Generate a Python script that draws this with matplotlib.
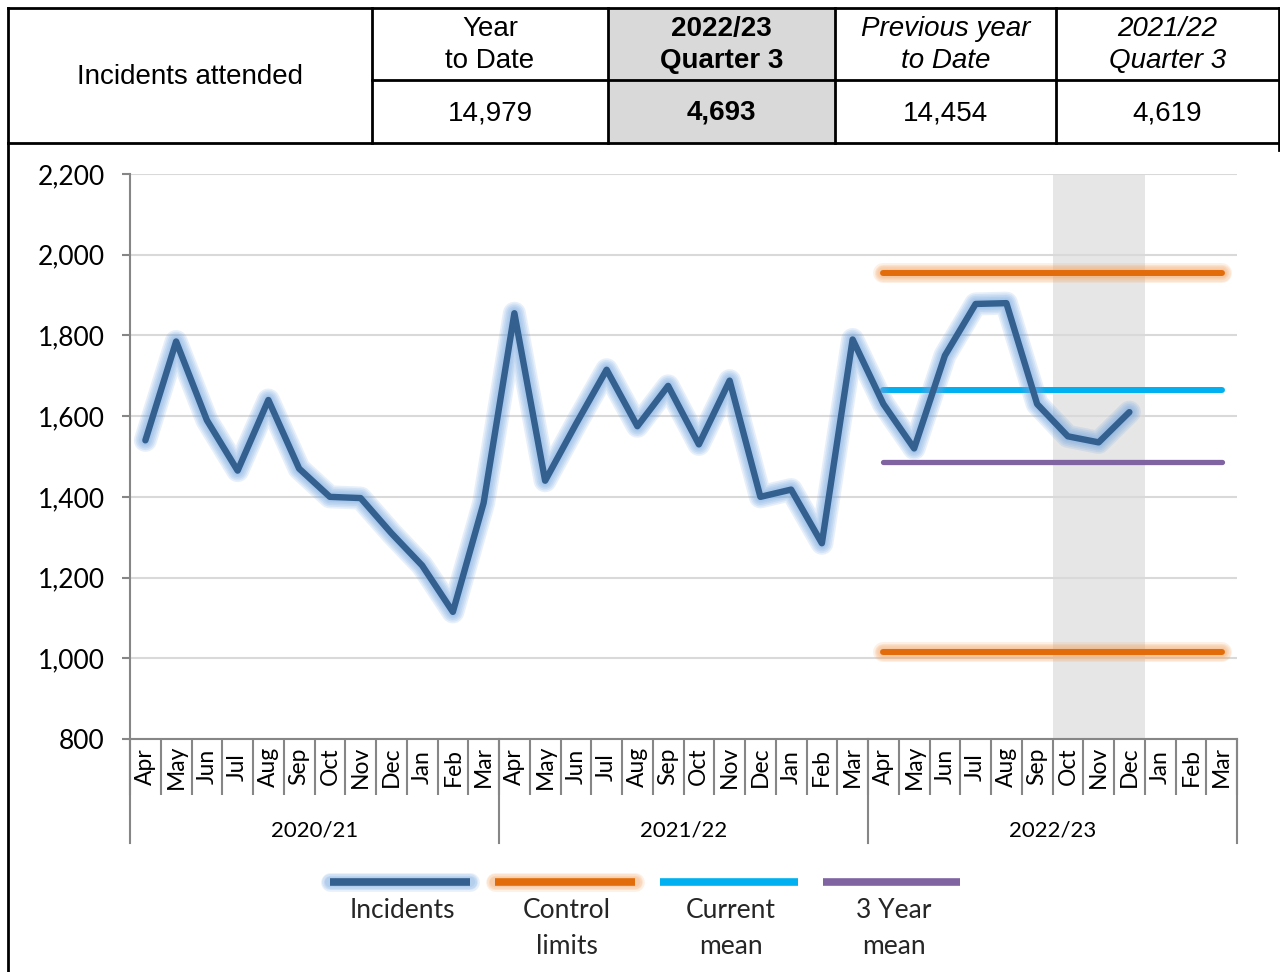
import numpy as np
import matplotlib
matplotlib.use('Agg')
import matplotlib.pyplot as plt

# ---- data ----
months = ['Apr', 'May', 'Jun', 'Jul', 'Aug', 'Sep', 'Oct', 'Nov', 'Dec', 'Jan', 'Feb', 'Mar']
years = ['2020/21', '2021/22', '2022/23']
incidents_2020 = [1540, 1785, 1590, 1465, 1640, 1470, 1400, 1397, 1310, 1230, 1115, 1385]
incidents_2021 = [1855, 1440, 1580, 1715, 1575, 1675, 1530, 1688, 1400, 1418, 1285, 1790]
incidents_2022 = [1630, 1520, 1750, 1878, 1880, 1630, 1550, 1535, 1610]
upper_control = 1955
lower_control = 1016
current_mean = 1665
three_year_mean = 1486
quarter_months = ['Oct', 'Nov', 'Dec']

header_labels = ['Year\nto Date', '2022/23\nQuarter 3', 'Previous year\nto Date', '2021/22\nQuarter 3']
header_values = ['14,979', '4,693', '14,454', '4,619']
row_label = 'Incidents attended'

TABLE_FONT = ['Liberation Sans', 'DejaVu Sans']
CHART_FONT = ['Lato', 'DejaVu Sans']

W, H = 1280, 972
fig = plt.figure(figsize=(W / 100, H / 100), dpi=100)


def px_axes(x0, y0, x1, y1):
    return fig.add_axes([x0 / W, 1 - y1 / H, (x1 - x0) / W, (y1 - y0) / H])


def glow(target, xs, ys, color, glow_col, lw, glow_w, z=3):
    steps = [1.0, 0.8, 0.6, 0.4, 0.2]
    for s in steps:
        target.plot(xs, ys, color=glow_col, lw=lw + glow_w * s, alpha=0.16,
                    solid_capstyle='round', solid_joinstyle='round', zorder=z)
    target.plot(xs, ys, color=color, lw=lw, solid_capstyle='round',
                solid_joinstyle='round', zorder=z + 1)


# ---- main chart ----
ax = px_axes(130, 174, 1237, 739)
incidents = incidents_2020 + incidents_2021 + incidents_2022
x = np.arange(len(incidents))
n_cat = len(months) * len(years)

q0 = 24 + months.index(quarter_months[0])
ax.axvspan(q0 - 0.5, q0 + len(quarter_months) - 0.5, color='#e6e6e6', zorder=1, lw=0)

cur = np.arange(24, n_cat)
glow(ax, cur, [upper_control] * len(cur), '#e36c0a', '#f4a460', 4.3, 10)
glow(ax, cur, [lower_control] * len(cur), '#e36c0a', '#f4a460', 4.3, 10)
ax.plot(cur, [current_mean] * len(cur), color='#00b0f0', lw=4.3, solid_capstyle='round', zorder=4)
ax.plot(cur, [three_year_mean] * len(cur), color='#8064a2', lw=3.8, solid_capstyle='round', zorder=4)
glow(ax, x, incidents, '#33608f', '#6fa3e0', 4.6, 12, z=5)

ax.set_xlim(-0.5, n_cat - 0.5)
ax.set_ylim(800, 2200)
yt = np.arange(800, 2201, 200)
ax.set_yticks(yt)
ax.set_yticklabels([f'{v:,}' for v in yt], fontsize=19, family=CHART_FONT)
ax.yaxis.grid(True, color='#d9d9d9', lw=1.5, zorder=2)
ax.tick_params(axis='y', length=6, width=1.5, color='#868686', pad=12)

ax.set_xticks(np.arange(-0.5, n_cat, 1))
ax.set_xticklabels([])
ax.tick_params(axis='x', length=40, width=1.5, color='#868686')

for s in ['top', 'right']:
    ax.spines[s].set_visible(False)
for s in ['left', 'bottom']:
    ax.spines[s].set_color('#868686')
    ax.spines[s].set_linewidth(1.5)

xt = ax.get_xaxis_transform()
for i in range(n_cat):
    ax.text(i, -0.049, months[i % 12], transform=xt, rotation=90, ha='center',
            va='center', fontsize=16.5, family=CHART_FONT)
for j, yr in enumerate(years):
    ax.text(j * 12 + 5.5, -0.162, yr, transform=xt, ha='center', va='center',
            fontsize=16, family=CHART_FONT)
for b in np.arange(-0.5, n_cat, 12):
    ax.plot([b, b], [0, -0.184], transform=xt, color='#868686', lw=1.5, clip_on=False)

# ---- overlay: table, frame, legend ----
ov = px_axes(0, 0, W, H)
ov.set_xlim(0, W)
ov.set_ylim(H, 0)
ov.axis('off')
ov.patch.set_alpha(0)

cols = [8, 372, 608, 835, 1056, 1279]
ov.add_patch(plt.Rectangle((cols[2], 8), cols[3] - cols[2], 135, color='#d9d9d9', lw=0))
ov.plot([8, 1280], [8, 8], color='black', lw=2)
ov.plot([8, 1280], [143, 143], color='black', lw=2)
ov.plot([cols[1], 1280], [80, 80], color='black', lw=2)
for c in cols:
    ov.plot([c, c], [8, 143], color='black', lw=2)
ov.plot([8, 8], [143, 972], color='black', lw=2)
ov.plot([1279, 1279], [143, 150], color='black', lw=2)

ov.text(190, 77, row_label, ha='center', va='center', fontsize=20, family=TABLE_FONT)
styles = [('normal', 'normal'), ('bold', 'normal'), ('normal', 'italic'), ('normal', 'italic')]
for k in range(4):
    cx = (cols[k + 1] + cols[k + 2]) / 2
    fw, fs = styles[k]
    ov.text(cx, 45, header_labels[k], ha='center', va='center', fontsize=20,
            family=TABLE_FONT, weight=fw, style=fs, linespacing=1.3)
    ov.text(cx, 113, header_values[k], ha='center', va='center', fontsize=20,
            family=TABLE_FONT, weight=fw)

legend_items = [('Incidents', '#33608f', '#6fa3e0'), ('Control\nlimits', '#e36c0a', '#f4a460'),
                ('Current\nmean', '#00b0f0', None), ('3 Year\nmean', '#8064a2', None)]
lx = [(330, 470), (495, 635), (660, 798), (823, 960)]
for (lab, col, gl), (a, b) in zip(legend_items, lx):
    if gl:
        for s in [1.0, 0.75, 0.5, 0.25]:
            ov.plot([a, b], [882, 882], color=gl, lw=5.5 + 8 * s, alpha=0.16,
                    solid_capstyle='round')
    ov.plot([a, b], [882, 882], color=col, lw=5.5, solid_capstyle='butt')
    ov.text((a + b) / 2 + 2, 898, lab, ha='center', va='top', fontsize=19,
            family=CHART_FONT, color='#262626', linespacing=1.55)

fig.savefig('out.png', dpi=100)
